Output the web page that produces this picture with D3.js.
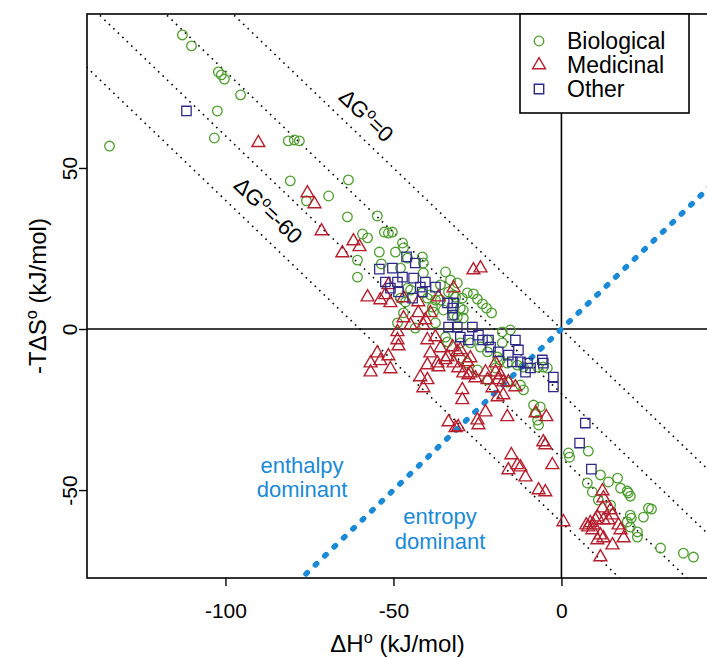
<!DOCTYPE html>
<html>
<head>
<meta charset="utf-8">
<script src="https://cdn.jsdelivr.net/npm/d3@7"></script>
<style>
  body { margin: 0; background: #fff; }
  svg { display: block; font-family: "Liberation Sans", Arial, Helvetica, sans-serif; }
</style>
</head>
<body>
<svg id="chart" width="707" height="658"></svg>
<script>
// Binding thermodynamics: [ΔH°, -TΔS°] in kJ/mol
const biological = [
  [-112.8,91.3],[-110.1,87.9],[-102.1,79.8],[-101.2,78.9],[-100.3,77.6],[-95.5,72.7],[-102.4,67.7],
  [-103.3,59.3],[-134.5,56.8],[-81.3,58.4],[-79.5,58.7],[-78.0,58.4],[-80.7,46.0],[-69.3,41.3],
  [-75.9,39.8],[-63.4,46.3],[-63.7,34.8],[-54.8,35.1],[-52.7,30.1],[-51.5,29.8],[-50.3,30.1],
  [-59.2,29.5],[-57.7,28.3],[-54.2,23.9],[-49.4,23.9],[-47.3,26.7],[-47.0,25.2],[-60.7,21.4],
  [-60.7,16.1],[-53.6,20.2],[-47.9,18.9],[-45.8,22.0],[-41.4,22.4],[-41.1,20.5],[-34.5,17.7],
  [-33.0,15.2],[-31.0,14.3],[-26.2,10.9],[-25.0,9.3],[-23.5,7.8],[-22.3,6.5],[-20.8,5.0],
  [-45.8,12.7],[-44.9,12.1],[-41.4,11.2],[-39.0,10.6],[-37.5,9.0],[-36.0,9.0],[-33.6,11.5],
  [-31.5,9.9],[-29.5,9.6],[-28.0,11.2],[-30.1,6.5],[-36.0,13.7],[-46.4,8.4],[-47.9,9.6],
  [-39.9,9.6],[-38.4,6.8],[-38.1,5.3],[-35.1,5.9],[-32.1,4.3],[-29.2,3.4],[-47.0,5.0],
  [-48.8,1.9],[-43.5,0.3],[-37.5,1.9],[-31.0,3.7],[-29.2,5.9],[-34.5,-2.5],[-33.9,-4.0],
  [-30.1,-4.3],[-27.1,-4.3],[-24.1,-5.6],[-22.0,-7.1],[-19.0,-8.7],[-22.0,-3.4],[-17.6,-0.9],
  [-15.2,-0.3],[-17.6,-4.3],[-18.2,-9.6],[-16.1,-10.6],[-13.1,-11.2],[-11.3,-11.8],[-7.1,-11.8],
  [-5.4,-11.8],[-4.2,-12.1],[-30.1,-9.0],[-28.0,-10.6],[-25.0,-12.7],[-22.0,-15.8],[-19.6,-12.1],
  [-16.1,-16.5],[-12.2,-17.4],[-11.3,-18.9],[-8.3,-23.6],[-6.3,-24.2],[-7.7,-26.1],[-7.1,-28.3],
  [-6.8,-29.8],[2.1,-38.5],[2.4,-39.8],[8.0,-37.9],[11.6,-45.3],[14.0,-47.5],[16.7,-46.3],
  [7.7,-47.8],[9.2,-50.6],[17.6,-49.4],[19.6,-50.3],[19.9,-50.9],[20.5,-51.9],[11.0,-53.1],
  [14.6,-54.7],[20.5,-57.8],[20.8,-58.7],[24.4,-58.4],[25.9,-55.6],[26.8,-55.9],[19.6,-59.9],
  [20.5,-61.5],[22.6,-63.0],[22.6,-64.6],[29.5,-68.0],[36.3,-69.6],[39.3,-70.8],[-41.1,17.4],
  [-32.1,10.6]
];
const medicinal = [
  [-90.2,57.8],[-75.6,42.2],[-73.5,38.8],[-71.4,30.4],[-61.9,27.3],[-60.1,25.5],[-65.2,23.6],
  [-57.7,9.9],[-52.4,10.6],[-51.5,13.7],[-47.0,9.6],[-53.9,9.0],[-50.9,8.1],[-42.6,8.4],
  [-42.6,5.0],[-39.0,5.0],[-32.1,12.7],[-26.2,18.3],[-24.1,18.9],[-36.6,9.9],[-47.0,3.4],
  [-40.5,2.8],[-41.1,1.2],[-48.8,-0.9],[-48.8,-3.4],[-48.5,-5.3],[-44.9,1.2],[-39.9,-3.4],
  [-37.5,-2.5],[-39.0,-7.5],[-36.0,-5.9],[-33.9,-8.7],[-32.4,-5.6],[-31.0,-7.1],[-30.1,-6.5],
  [-27.1,-9.0],[-54.8,-7.5],[-51.5,-8.4],[-56.8,-10.6],[-53.9,-9.9],[-50.9,-12.4],[-56.8,-13.4],
  [-39.9,-11.2],[-36.9,-10.6],[-34.5,-9.6],[-36.6,-11.8],[-32.1,-10.6],[-30.7,-12.1],[-29.2,-13.7],
  [-27.7,-14.3],[-25.6,-15.2],[-22.6,-13.4],[-22.0,-15.8],[-19.6,-13.4],[-18.8,-15.8],[-19.6,-10.6],
  [-15.8,-16.5],[-20.5,-18.3],[-13.7,-18.0],[-29.5,-18.9],[-29.5,-22.0],[-19.0,-21.1],[-17.3,-20.5],
  [-42.0,-14.9],[-39.9,-15.8],[-41.1,-18.3],[-33.6,-28.9],[-31.5,-30.7],[-30.7,-30.4],[-25.0,-28.3],
  [-24.7,-29.8],[-22.6,-25.8],[-16.1,-27.3],[-7.7,-26.1],[-4.5,-27.3],[-5.4,-35.1],[-4.8,-36.0],
  [-2.7,-42.2],[-14.9,-39.1],[-13.1,-42.2],[-12.2,-42.9],[-15.8,-43.8],[-10.7,-46.0],[-6.8,-50.0],
  [-4.8,-50.6],[0.6,-59.9],[11.6,-70.8],[12.2,-50.3],[12.5,-52.5],[12.2,-55.6],[14.6,-56.2],
  [15.2,-57.8],[10.7,-58.4],[12.5,-59.3],[8.6,-60.2],[9.5,-60.9],[8.0,-61.5],[9.2,-62.4],
  [14.0,-59.3],[17.0,-60.9],[17.6,-62.4],[11.6,-64.0],[12.5,-64.9],[10.7,-65.5],[18.5,-64.9],
  [15.2,-67.1],[10.1,-59.3],[7.4,-60.9],[-28.0,-10.2],[-18.2,-14.3],[-17.3,-16.5],[-27.1,-13.7]
];
const other = [
  [-111.6,67.7],[-46.1,22.4],[-43.5,20.5],[-54.2,18.6],[-50.3,18.9],[-52.4,14.6],[-48.8,14.6],
  [-47.3,16.1],[-44.0,15.8],[-42.0,13.0],[-41.4,11.5],[-37.5,13.0],[-48.5,11.5],[-44.3,9.6],
  [-50.9,12.7],[-40.5,14.6],[-33.9,8.1],[-32.1,8.1],[-32.4,6.5],[-32.4,4.3],[-33.6,0.6],
  [-31.0,0.6],[-26.5,0.6],[-30.1,-2.5],[-27.7,-3.4],[-24.7,-1.9],[-23.5,-3.4],[-21.7,-3.4],
  [-21.1,-5.6],[-18.8,-7.1],[-15.8,-8.1],[-13.7,-3.4],[-12.8,-6.5],[-12.2,-10.2],[-14.6,-10.2],
  [-9.2,-12.1],[-10.1,-10.6],[-5.7,-9.6],[-5.4,-10.6],[-10.7,-13.4],[-2.4,-14.9],[-2.4,-18.0],
  [7.1,-29.2],[5.4,-35.4],[8.9,-43.5]
];

const seriesNames = ["Biological", "Medicinal", "Other"];
const seriesColors = ["#4e9e2e", "#b51f2e", "#2f2a88"];
const xTicks = [-100, -50, 0];
const yTicks = [-50, 0, 50];
const deltaGLevels = [0, -20, -40, -60];

const svg = d3.select("#chart");
const plot = { left: 87, top: 14, right: 716, bottom: 578 };

const x = d3.scaleLinear().domain([-141.2, 46.0]).range([plot.left, plot.right]);
const y = d3.scaleLinear().domain([-77.3, 97.8]).range([plot.bottom, plot.top]);

svg.append("defs").append("clipPath").attr("id", "plotClip")
  .append("rect")
  .attr("x", plot.left).attr("y", plot.top)
  .attr("width", plot.right - plot.left).attr("height", plot.bottom - plot.top);

const inner = svg.append("g").attr("clip-path", "url(#plotClip)");
const line = d3.line().x(d => x(d[0])).y(d => y(d[1]));

// iso-ΔG° lines: ΔH° + (-TΔS°) = ΔG°
deltaGLevels.forEach(g => {
  inner.append("path")
    .datum([[-160, g + 160], [80, g - 80]])
    .attr("d", line)
    .attr("fill", "none")
    .attr("stroke", "#000")
    .attr("stroke-width", 1.6)
    .attr("stroke-dasharray", "1.6 4.6");
});

// zero axes through the origin
inner.append("path").datum([[0, -90], [0, 110]]).attr("d", line)
  .attr("stroke", "#000").attr("stroke-width", 1.6).attr("fill", "none");
inner.append("path").datum([[-150, 0], [60, 0]]).attr("d", line)
  .attr("stroke", "#000").attr("stroke-width", 1.6).attr("fill", "none");

// |ΔH°| = |TΔS°| boundary
inner.append("path").datum([[-90, -90], [60, 60]]).attr("d", line)
  .attr("fill", "none")
  .attr("stroke", "#1a8ad6")
  .attr("stroke-width", 5.5)
  .attr("stroke-linecap", "round")
  .attr("stroke-dasharray", "2 11");

// points
const triangle = d3.symbol(d3.symbolTriangle, 72);
const square = d3.symbol(d3.symbolSquare, 88);

inner.append("g").selectAll("circle").data(biological).join("circle")
  .attr("cx", d => x(d[0])).attr("cy", d => y(d[1])).attr("r", 4.8)
  .attr("fill", "none").attr("stroke", seriesColors[0]).attr("stroke-width", 1.3);

inner.append("g").selectAll("path").data(medicinal).join("path")
  .attr("d", triangle)
  .attr("transform", d => `translate(${x(d[0])},${y(d[1])})`)
  .attr("fill", "none").attr("stroke", seriesColors[1]).attr("stroke-width", 1.4);

inner.append("g").selectAll("path").data(other).join("path")
  .attr("d", square)
  .attr("transform", d => `translate(${x(d[0])},${y(d[1])})`)
  .attr("fill", "none").attr("stroke", seriesColors[2]).attr("stroke-width", 1.3);

// frame
svg.append("rect")
  .attr("x", plot.left).attr("y", plot.top)
  .attr("width", plot.right - plot.left).attr("height", plot.bottom - plot.top)
  .attr("fill", "none").attr("stroke", "#000").attr("stroke-width", 1.6);

// axes
const xAxis = svg.append("g").attr("transform", `translate(0,${plot.bottom})`)
  .call(d3.axisBottom(x).tickValues(xTicks).tickSize(8).tickSizeOuter(0).tickFormat(d3.format("d")));
xAxis.select(".domain").remove();
xAxis.selectAll("line").attr("stroke", "#000").attr("stroke-width", 1.4);
xAxis.selectAll("text").attr("y", 40).attr("dy", 0)
  .attr("font-size", 21).attr("fill", "#000").attr("font-family", null)
  .text(d => d < 0 ? "-" + Math.abs(d) : d);

const yAxis = svg.append("g").attr("transform", `translate(${plot.left},0)`)
  .call(d3.axisLeft(y).tickValues(yTicks).tickSize(8).tickSizeOuter(0));
yAxis.select(".domain").remove();
yAxis.selectAll("line").attr("stroke", "#000").attr("stroke-width", 1.4);
yAxis.selectAll("text")
  .attr("x", 0).attr("y", -10).attr("dy", 0)
  .attr("transform", "rotate(-90)")
  .attr("text-anchor", "middle")
  .attr("font-size", 21).attr("fill", "#000").attr("font-family", null)
  .text(d => d < 0 ? "-" + Math.abs(d) : d);

// text with a raised "o" after a leading symbol
function supText(sel, before, after) {
  sel.append("tspan").text(before);
  sel.append("tspan").attr("font-size", "0.68em").attr("dy", "-0.55em").text("o");
  sel.append("tspan").attr("dy", "0.37em").text(after);
  return sel;
}

supText(svg.append("text")
  .attr("x", (plot.left + plot.right) / 2 - 4).attr("y", 652)
  .attr("text-anchor", "middle").attr("font-size", 24), "ΔH", " (kJ/mol)");

supText(svg.append("text")
  .attr("transform", `translate(46,${(plot.top + plot.bottom) / 2}) rotate(-90)`)
  .attr("text-anchor", "middle").attr("font-size", 24), "-TΔS", " (kJ/mol)");

// iso-ΔG° labels
const angle = Math.atan2(y(0) - y(1), x(1) - x(0)) * 180 / Math.PI;
supText(svg.append("text")
  .attr("transform", `translate(361,121) rotate(${angle})`)
  .attr("text-anchor", "middle").attr("font-size", 22), "ΔG", "=0");
supText(svg.append("text")
  .attr("transform", `translate(263,216) rotate(${angle})`)
  .attr("text-anchor", "middle").attr("font-size", 22), "ΔG", "=-60");

// region labels
const regionColor = "#1a8ad6";
[["enthalpy", 302, 473], ["dominant", 302, 497], ["entropy", 440, 524], ["dominant", 440, 549]]
  .forEach(([t, px, py]) => {
    svg.append("text").attr("x", px).attr("y", py).attr("text-anchor", "middle")
      .attr("font-size", 22).attr("fill", regionColor).text(t);
  });

// legend
const legend = svg.append("g");
legend.append("rect").attr("x", 520).attr("y", 14).attr("width", 169).attr("height", 99)
  .attr("fill", "#fff").attr("stroke", "#000").attr("stroke-width", 1.6);
const shapes = [null, triangle, square];
seriesNames.forEach((name, i) => {
  const cy = 41 + i * 24;
  if (i === 0) {
    legend.append("circle").attr("cx", 539).attr("cy", cy).attr("r", 4.8)
      .attr("fill", "none").attr("stroke", seriesColors[i]).attr("stroke-width", 1.3);
  } else {
    legend.append("path").attr("d", shapes[i]).attr("transform", `translate(539,${cy})`)
      .attr("fill", "none").attr("stroke", seriesColors[i]).attr("stroke-width", 1.4);
  }
  legend.append("text").attr("x", 567).attr("y", cy + 8).attr("font-size", 23)
    .attr("fill", "#000").text(name);
});
</script>
</body>
</html>
